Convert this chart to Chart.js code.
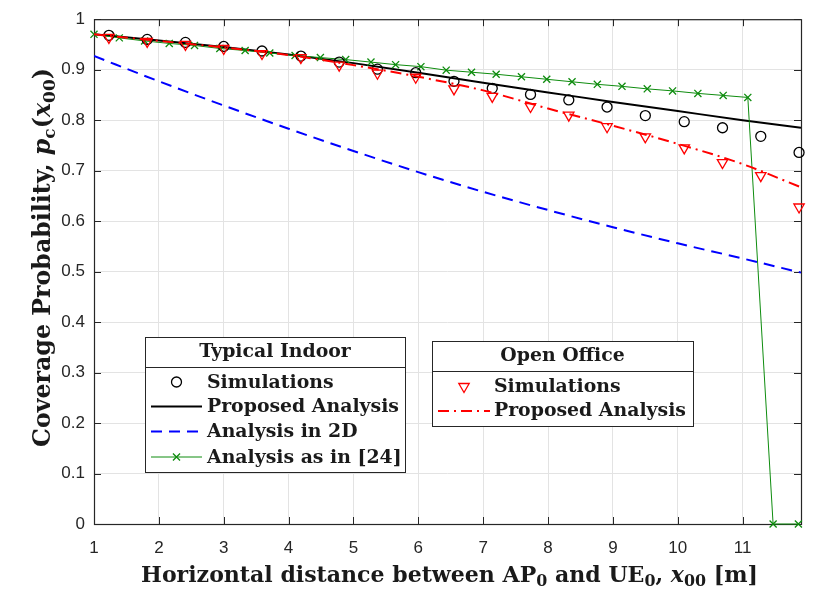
<!DOCTYPE html>
<html>
<head>
<meta charset="utf-8">
<script src="https://cdn.jsdelivr.net/npm/chart.js@4.4.1/dist/chart.umd.min.js"></script>
<style>
  html, body { margin: 0; padding: 0; background: #fff; }
  #wrap { width: 830px; height: 600px; }
</style>
</head>
<body>
<div id="wrap"><canvas id="chart" width="830" height="600"></canvas></div>
<script>
// analysis curves, sampled at these distances
var lineX = [1, 2, 3, 4, 5, 6, 7, 8, 9, 10, 11, 11.9];
var indoorAnalysis = [0.970, 0.958, 0.945, 0.930, 0.913, 0.894, 0.874, 0.855, 0.836, 0.818, 0.800, 0.785];
var analysis2D = [0.927, 0.877, 0.829, 0.783, 0.739, 0.697, 0.658, 0.622, 0.588, 0.556, 0.526, 0.498];
var officeAnalysis = [0.970, 0.957, 0.944, 0.929, 0.909, 0.886, 0.859, 0.823, 0.789, 0.753, 0.713, 0.667];

// simulation markers
var simX = [1.23, 1.82, 2.41, 3.00, 3.59, 4.19, 4.78, 5.37, 5.96, 6.55, 7.14, 7.73, 8.32, 8.91, 9.50, 10.10, 10.69, 11.28, 11.87];
var indoorSim = [0.968, 0.960, 0.954, 0.946, 0.937, 0.927, 0.915, 0.901, 0.894, 0.877, 0.863, 0.851, 0.840, 0.826, 0.809, 0.797, 0.785, 0.768, 0.736];
var officeSim = [0.964, 0.956, 0.950, 0.942, 0.932, 0.924, 0.909, 0.893, 0.885, 0.862, 0.847, 0.827, 0.810, 0.787, 0.767, 0.745, 0.716, 0.690, 0.628];

// analysis as in [24]
var refX = [1.00, 1.39, 1.78, 2.16, 2.55, 2.94, 3.33, 3.71, 4.10, 4.49, 4.88, 5.27, 5.65, 6.04, 6.43,
            6.82, 7.20, 7.59, 7.98, 8.37, 8.76, 9.14, 9.53, 9.92, 10.31, 10.70, 11.08, 11.47, 11.86];
var refY = [0.970, 0.963, 0.957, 0.952, 0.948, 0.942, 0.938, 0.933, 0.928, 0.924, 0.920, 0.915, 0.910, 0.906, 0.899,
            0.895, 0.891, 0.886, 0.881, 0.876, 0.871, 0.867, 0.862, 0.858, 0.853, 0.849, 0.845, 0, 0];

var xTicks = [1, 2, 3, 4, 5, 6, 7, 8, 9, 10, 11];
var yTicks = [0, 0.1, 0.2, 0.3, 0.4, 0.5, 0.6, 0.7, 0.8, 0.9, 1];
var yTickLabels = ['0', '0.1', '0.2', '0.3', '0.4', '0.5', '0.6', '0.7', '0.8', '0.9', '1'];

var indoorTitle = 'Typical Indoor';
var indoorLabels = ['Simulations', 'Proposed Analysis', 'Analysis in 2D', 'Analysis as in [24]'];
var officeTitle = 'Open Office';
var officeLabels = ['Simulations', 'Proposed Analysis'];

var axisColor = '#262626';
var green = '#0e8c0e';
var serif = '"DejaVu Serif"';

function pts(xs, ys) {
    return xs.map(function (v, i) { return { x: v, y: ys[i] }; });
}

// draws a marker the same way in the plot and in the legend boxes
function drawMarker(ctx, style, cx, cy, r, color, lw) {
    ctx.save();
    ctx.strokeStyle = color;
    ctx.lineWidth = lw;
    ctx.setLineDash([]);
    ctx.beginPath();
    if (style === 'circle') {
        ctx.arc(cx, cy, r, 0, Math.PI * 2);
    } else if (style === 'triangleDown') {
        ctx.moveTo(cx, cy + r);
        ctx.lineTo(cx - r * 0.866, cy - r * 0.5);
        ctx.lineTo(cx + r * 0.866, cy - r * 0.5);
        ctx.closePath();
    } else if (style === 'crossRot') {
        var o = r * 0.707;
        ctx.moveTo(cx - o, cy - o); ctx.lineTo(cx + o, cy + o);
        ctx.moveTo(cx + o, cy - o); ctx.lineTo(cx - o, cy + o);
    }
    ctx.stroke();
    ctx.restore();
}

function drawSample(ctx, x0, x1, y, color, width, dash) {
    ctx.save();
    ctx.strokeStyle = color;
    ctx.lineWidth = width;
    ctx.setLineDash(dash || []);
    ctx.beginPath();
    ctx.moveTo(x0, y);
    ctx.lineTo(x1, y);
    ctx.stroke();
    ctx.restore();
}

// text runs with italic symbols and subscripts
function runFont(run, size) {
    var sz = run.sub ? size * 0.72 : size;
    return (run.it ? 'italic ' : '') + 'bold ' + sz.toFixed(2) + 'px ' + serif;
}
function runsWidth(ctx, runs, size) {
    var w = 0;
    runs.forEach(function (r) { ctx.font = runFont(r, size); w += ctx.measureText(r.t).width; });
    return w;
}
function drawRuns(ctx, runs, size, cx, baseline) {
    var w = runsWidth(ctx, runs, size);
    var x = cx - w / 2;
    ctx.textAlign = 'left';
    ctx.textBaseline = 'alphabetic';
    runs.forEach(function (r) {
        ctx.font = runFont(r, size);
        ctx.fillText(r.t, x, baseline + (r.sub ? size * 0.2 : 0));
        x += ctx.measureText(r.t).width;
    });
}
function fitSize(ctx, runs, target) {
    return 20 * target / runsWidth(ctx, runs, 20);
}

var yTitle = [
    { t: 'Coverage Probability, ' }, { t: 'p', it: true }, { t: 'c', sub: true },
    { t: '(' }, { t: 'x', it: true }, { t: '00', sub: true }, { t: ')' }
];
var xTitle = [
    { t: 'Horizontal distance between AP' }, { t: '0', sub: true }, { t: ' and UE' }, { t: '0', sub: true },
    { t: ', ' }, { t: 'x', it: true }, { t: '00', sub: true }, { t: ' [m]' }
];

const frame = {
    id: 'frame',
    beforeDatasetsDraw(chart) {
        const ctx = chart.ctx, a = chart.chartArea;
        const x = chart.scales.x, y = chart.scales.y;
        ctx.save();
        ctx.strokeStyle = axisColor;
        ctx.lineWidth = 1;
        ctx.beginPath();
        xTicks.forEach(function (v) {
            var px = Math.round(x.getPixelForValue(v)) + 0.5;
            ctx.moveTo(px, a.bottom); ctx.lineTo(px, a.bottom - 7);
            ctx.moveTo(px, a.top); ctx.lineTo(px, a.top + 7);
        });
        yTicks.forEach(function (v) {
            var py = Math.round(y.getPixelForValue(v)) + 0.5;
            ctx.moveTo(a.left, py); ctx.lineTo(a.left + 7, py);
            ctx.moveTo(a.right, py); ctx.lineTo(a.right - 7, py);
        });
        ctx.stroke();
        ctx.lineWidth = 1.2;
        ctx.strokeRect(a.left + 0.5, a.top + 0.5, a.right - a.left, a.bottom - a.top);
        ctx.restore();
    },
    afterDraw(chart) {
        const ctx = chart.ctx, a = chart.chartArea;
        ctx.save();
        ctx.fillStyle = '#1a1a1a';
        // axis titles
        var xs = fitSize(ctx, xTitle, 617);
        drawRuns(ctx, xTitle, xs, 449.5, 582);
        var ys = fitSize(ctx, yTitle, 379);
        ctx.save();
        ctx.translate(50, 257.5);
        ctx.rotate(-Math.PI / 2);
        drawRuns(ctx, yTitle, ys, 0, 0);
        ctx.restore();

        // legend boxes
        ctx.font = 'bold 20px ' + serif;
        var ls = 20 * 192 / ctx.measureText('Proposed Analysis').width;
        var lf = 'bold ' + ls.toFixed(2) + 'px ' + serif;

        function box(l, t, r, b, sep, title, titleBase) {
            ctx.fillStyle = '#fff';
            ctx.fillRect(l, t, r - l, b - t);
            ctx.strokeStyle = axisColor;
            ctx.lineWidth = 1;
            ctx.strokeRect(l + 0.5, t + 0.5, r - l, b - t);
            ctx.beginPath();
            ctx.moveTo(l, sep + 0.5); ctx.lineTo(r, sep + 0.5);
            ctx.stroke();
            ctx.fillStyle = '#1a1a1a';
            ctx.font = lf;
            ctx.textAlign = 'center';
            ctx.textBaseline = 'alphabetic';
            ctx.fillText(title, (l + r) / 2, titleBase);
        }
        function label(text, x, base) {
            ctx.fillStyle = '#1a1a1a';
            ctx.font = lf;
            ctx.textAlign = 'left';
            ctx.textBaseline = 'alphabetic';
            ctx.fillText(text, x, base);
        }

        var ds = chart.data.datasets;
        box(145, 337, 405, 472, 367, indoorTitle, 357);
        var rowsA = [382, 406.5, 431.5, 457];
        drawMarker(ctx, 'circle', 176.5, rowsA[0], 5, ds[0].borderColor, 1.3);
        drawSample(ctx, 151, 202, rowsA[1], ds[1].borderColor, 2, ds[1].borderDash);
        drawSample(ctx, 151, 202, rowsA[2], ds[2].borderColor, 2, ds[2].borderDash);
        drawSample(ctx, 151, 202, rowsA[3], ds[3].borderColor, 1, ds[3].borderDash);
        drawMarker(ctx, 'crossRot', 176.5, rowsA[3], 5, ds[3].borderColor, 1.3);
        indoorLabels.forEach(function (t, i) { label(t, 207, rowsA[i] + 5.5); });

        box(432, 341, 693, 426, 371, officeTitle, 360.5);
        var rowsB = [386.5, 411];
        drawMarker(ctx, 'triangleDown', 464, rowsB[0], 6, ds[4].borderColor, 1.3);
        drawSample(ctx, 438, 490, rowsB[1], ds[5].borderColor, 2, ds[5].borderDash);
        officeLabels.forEach(function (t, i) { label(t, 494, rowsB[i] + 5); });
        ctx.restore();
    }
};

new Chart(document.getElementById('chart'), {
    type: 'scatter',
    data: {
        datasets: [{
            label: 'Typical Indoor: Simulations',
            data: pts(simX, indoorSim),
            showLine: false,
            pointStyle: 'circle',
            pointRadius: 5,
            borderColor: '#000000',
            backgroundColor: 'rgba(0,0,0,0)',
            pointBorderWidth: 1.3,
            clip: false,
            order: 2
        }, {
            label: 'Typical Indoor: Proposed Analysis',
            data: pts(lineX, indoorAnalysis),
            showLine: true,
            borderColor: '#000000',
            borderWidth: 2,
            pointRadius: 0,
            cubicInterpolationMode: 'monotone',
            order: 5
        }, {
            label: 'Analysis in 2D',
            data: pts(lineX, analysis2D),
            showLine: true,
            borderColor: '#0000ff',
            borderWidth: 2,
            borderDash: [11, 7],
            pointRadius: 0,
            cubicInterpolationMode: 'monotone',
            order: 4
        }, {
            label: 'Analysis as in [24]',
            data: pts(refX, refY),
            showLine: true,
            borderColor: green,
            backgroundColor: green,
            borderWidth: 1,
            pointStyle: 'crossRot',
            pointRadius: 5,
            pointBorderWidth: 1.3,
            tension: 0,
            clip: false,
            order: 3
        }, {
            label: 'Open Office: Simulations',
            data: pts(simX, officeSim),
            showLine: false,
            pointStyle: 'triangle',
            rotation: 180,
            pointRadius: 6,
            borderColor: '#ff0000',
            backgroundColor: 'rgba(0,0,0,0)',
            pointBorderWidth: 1.3,
            clip: false,
            order: 1
        }, {
            label: 'Open Office: Proposed Analysis',
            data: pts(lineX, officeAnalysis),
            showLine: true,
            borderColor: '#ff0000',
            borderWidth: 2,
            borderDash: [11, 5, 2, 5],
            pointRadius: 0,
            cubicInterpolationMode: 'monotone',
            order: 0
        }]
    },
    options: {
        responsive: false,
        animation: false,
        events: [],
        layout: { padding: { left: 0, top: 18, right: 29, bottom: 0 } },
        plugins: {
            legend: { display: false },
            tooltip: { enabled: false }
        },
        scales: {
            x: {
                type: 'linear',
                min: 1,
                max: 11.9,
                afterBuildTicks: function (s) { s.ticks = xTicks.map(function (v) { return { value: v }; }); },
                afterFit: function (s) { s.height = 76; },
                grid: { color: '#e3e3e3', lineWidth: 1, drawTicks: false },
                border: { display: false },
                ticks: {
                    padding: 14,
                    color: axisColor,
                    font: { family: 'Liberation Sans', size: 17 },
                    maxRotation: 0,
                    callback: function (v) { return String(v); }
                }
            },
            y: {
                min: 0,
                max: 1,
                afterBuildTicks: function (s) { s.ticks = yTicks.map(function (v) { return { value: v }; }); },
                afterFit: function (s) { s.width = 94; },
                grid: { color: '#e3e3e3', lineWidth: 1, drawTicks: false },
                border: { display: false },
                ticks: {
                    padding: 9,
                    color: axisColor,
                    font: { family: 'Liberation Sans', size: 17 },
                    callback: function (v) {
                        var i = yTicks.findIndex(function (t) { return Math.abs(t - v) < 1e-9; });
                        return i >= 0 ? yTickLabels[i] : '';
                    }
                }
            }
        }
    },
    plugins: [frame]
});
</script>
</body>
</html>
